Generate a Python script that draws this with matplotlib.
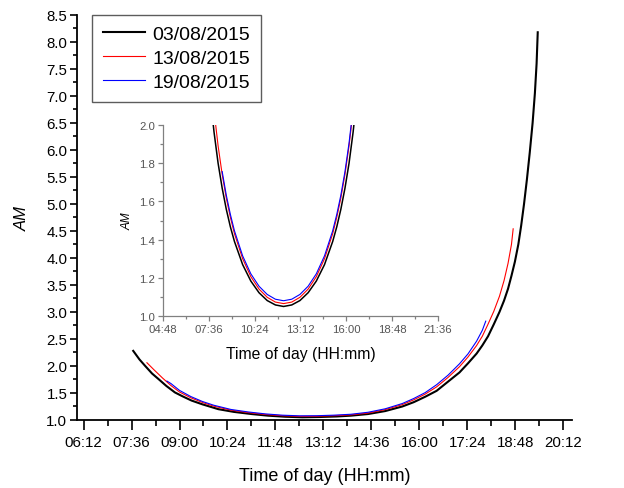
import matplotlib
matplotlib.use("Agg")
import matplotlib.pyplot as plt
import numpy as np
from matplotlib.ticker import FixedLocator, FuncFormatter, MultipleLocator

plt.rcParams["font.family"] = ["Liberation Sans", "DejaVu Sans"]

# main plot: air mass vs time of day
black_time = ["07:39", "07:50", "08:00", "08:12", "08:23", "08:37", "08:52", "09:05", "09:21",
              "09:40", "10:08", "10:35", "11:06", "11:35", "12:05", "12:35", "13:05", "13:35",
              "14:00", "14:30", "15:00", "15:30", "15:50", "16:10", "16:30", "16:50", "17:10",
              "17:25", "17:40", "17:50", "18:00", "18:10", "18:20", "18:28", "18:35", "18:41",
              "18:47", "18:53", "18:58", "19:03", "19:08", "19:13", "19:18", "19:22", "19:25",
              "19:27"]
black_am = [2.28, 2.12, 2.00, 1.86, 1.76, 1.63, 1.51, 1.44, 1.36,
            1.29, 1.20, 1.15, 1.11, 1.08, 1.06, 1.05, 1.055, 1.065,
            1.08, 1.11, 1.165, 1.25, 1.33, 1.43, 1.54, 1.71, 1.88,
            2.05, 2.23, 2.38, 2.55, 2.77, 3.00, 3.21, 3.43, 3.67,
            3.93, 4.25, 4.60, 5.00, 5.45, 5.95, 6.50, 7.05, 7.60,
            8.18]

red_time = ["08:03", "08:15", "08:30", "08:45", "09:00", "09:20", "09:40", "10:00", "10:30",
            "11:00", "11:30", "12:00", "12:30", "13:00", "13:30", "14:00", "14:30", "15:00",
            "15:30", "15:50", "16:10", "16:30", "16:50", "17:10", "17:25", "17:40", "17:50",
            "18:00", "18:10", "18:20", "18:28", "18:35", "18:41", "18:44"]
red_am = [2.06, 1.933, 1.78, 1.638, 1.518, 1.41, 1.325, 1.256, 1.182,
          1.137, 1.102, 1.079, 1.067, 1.069, 1.079, 1.095, 1.128, 1.192,
          1.285, 1.373, 1.479, 1.613, 1.788, 1.986, 2.167, 2.379, 2.551,
          2.774, 3.01, 3.291, 3.58, 3.90, 4.25, 4.54]

blue_time = ["08:38", "08:45", "09:00", "09:20", "09:40", "10:00", "10:30", "11:00", "11:30",
             "12:00", "12:30", "13:00", "13:30", "14:00", "14:30", "15:00", "15:30", "15:50",
             "16:10", "16:30", "16:50", "17:10", "17:25", "17:40", "17:50", "17:56"]
blue_am = [1.72, 1.675, 1.548, 1.433, 1.343, 1.273, 1.195, 1.149, 1.113,
           1.089, 1.077, 1.079, 1.089, 1.106, 1.143, 1.207, 1.305, 1.398,
           1.507, 1.653, 1.83, 2.04, 2.225, 2.46, 2.66, 2.83]

# inset: zoom on AM between 1 and 2
inset_time = ["07:40", "07:55", "08:10", "08:25", "08:40", "08:55", "09:10", "09:40", "10:10",
              "10:40", "11:10", "11:40", "12:10", "12:40", "13:10", "13:40", "14:10", "14:40",
              "15:10", "15:25", "15:40", "15:55", "16:10", "16:25", "16:40"]
inset_black = [2.165, 1.964, 1.80, 1.669, 1.559, 1.467, 1.390, 1.269, 1.183,
               1.122, 1.081, 1.058, 1.050, 1.058, 1.081, 1.122, 1.183, 1.269,
               1.390, 1.467, 1.559, 1.669, 1.80, 1.964, 2.165]
inset_red = [2.310, 2.076, 1.891, 1.741, 1.618, 1.517, 1.431, 1.300, 1.206,
             1.141, 1.098, 1.073, 1.065, 1.073, 1.098, 1.141, 1.206, 1.300,
             1.431, 1.517, 1.618, 1.741, 1.891, 2.076, 2.310]
inset_blue = [1.756, 1.633, 1.532, 1.446, 1.315, 1.221, 1.156, 1.113, 1.088,
              1.080, 1.088, 1.113, 1.156, 1.221, 1.315, 1.446, 1.532, 1.633,
              1.756, 1.906, 2.091, 2.325]

labels = ["03/08/2015", "13/08/2015", "19/08/2015"]
colors = ["black", "#ff0000", "#0000ff"]

main_ticks = ["06:12", "07:36", "09:00", "10:24", "11:48", "13:12", "14:36", "16:00",
              "17:24", "18:48", "20:12"]
inset_ticks = ["04:48", "07:36", "10:24", "13:12", "16:00", "18:48", "21:36"]


def hours(values):
    return np.array([int(v[:2]) + int(v[3:]) / 60 for v in values])


def hhmm(value, _pos=None):
    minutes = int(round(value * 60))
    return f"{minutes // 60:02d}:{minutes % 60:02d}"


def minor_between(ticks):
    t = hours(ticks)
    return (t[:-1] + t[1:]) / 2


fig = plt.figure(figsize=(6.24, 4.89), dpi=100)
ax = fig.add_axes([0.1234, 0.1391, 0.7933, 0.8282])

ax.plot(hours(black_time), black_am, color=colors[0], lw=1.5, label=labels[0])
ax.plot(hours(red_time), red_am, color=colors[1], lw=0.8, label=labels[1])
ax.plot(hours(blue_time), blue_am, color=colors[2], lw=0.8, label=labels[2])

ax.set_xlim(6.01, 20.45)
ax.set_ylim(1.0, 8.5)
ax.xaxis.set_major_locator(FixedLocator(hours(main_ticks)))
ax.xaxis.set_minor_locator(FixedLocator(minor_between(main_ticks)))
ax.xaxis.set_major_formatter(FuncFormatter(hhmm))
ax.yaxis.set_major_locator(MultipleLocator(0.5))
ax.yaxis.set_minor_locator(MultipleLocator(0.25))
ax.yaxis.set_major_formatter(FuncFormatter(lambda v, _p: f"{v:.1f}"))
for side in ("top", "right"):
    ax.spines[side].set_visible(False)
for side in ("left", "bottom"):
    ax.spines[side].set_linewidth(1.3)
ax.tick_params(axis="both", which="major", direction="out", width=1.2, labelsize=10.8)
ax.tick_params(axis="x", which="major", length=7.5, pad=3)
ax.tick_params(axis="x", which="minor", direction="out", length=4, width=1.2)
ax.tick_params(axis="y", which="major", length=5, pad=2)
ax.tick_params(axis="y", which="minor", direction="out", length=3, width=1.2)
ax.set_xlabel("Time of day (HH:mm)", fontsize=13, labelpad=13)
ax.set_ylabel("AM", fontsize=12, style="italic", labelpad=12)

leg = ax.legend(loc="upper left", bbox_to_anchor=(0.03, 1.0), borderaxespad=0,
                fontsize=14, frameon=True, fancybox=False, handlelength=2.2,
                handletextpad=0.35, labelspacing=0.32, borderpad=0.55)
leg.get_frame().set_edgecolor("#333333")
leg.get_frame().set_linewidth(1.0)

# inset
ins = fig.add_axes([0.2612, 0.3517, 0.4407, 0.3906])
ins.set_facecolor("none")
ins.plot(hours(inset_time), inset_black, color=colors[0], lw=1.1)
ins.plot(hours(inset_time), inset_red, color=colors[1], lw=0.8)
ins.plot(hours(inset_time[3:]), inset_blue, color=colors[2], lw=0.8)
ins.set_xlim(4.8, 21.6)
ins.set_ylim(1.0, 2.0)
ins.xaxis.set_major_locator(FixedLocator(hours(inset_ticks)))
ins.xaxis.set_minor_locator(FixedLocator(minor_between(inset_ticks)))
ins.xaxis.set_major_formatter(FuncFormatter(hhmm))
ins.yaxis.set_major_locator(MultipleLocator(0.2))
ins.yaxis.set_minor_locator(MultipleLocator(0.1))
ins.yaxis.set_major_formatter(FuncFormatter(lambda v, _p: f"{v:.1f}"))
for side in ("top", "right"):
    ins.spines[side].set_visible(False)
for side in ("left", "bottom"):
    ins.spines[side].set_color("#808080")
    ins.spines[side].set_linewidth(0.9)
ins.tick_params(axis="both", which="both", direction="out", color="#808080", width=0.9,
                labelcolor="#555555", labelsize=8.2, pad=2)
ins.tick_params(axis="both", which="major", length=3.5)
ins.tick_params(axis="both", which="minor", length=2)
ins.set_xlabel("Time of day (HH:mm)", fontsize=11.3, labelpad=9)
ins.set_ylabel("AM", fontsize=8.5, style="italic", labelpad=4)

fig.savefig("out.png", dpi=100)
